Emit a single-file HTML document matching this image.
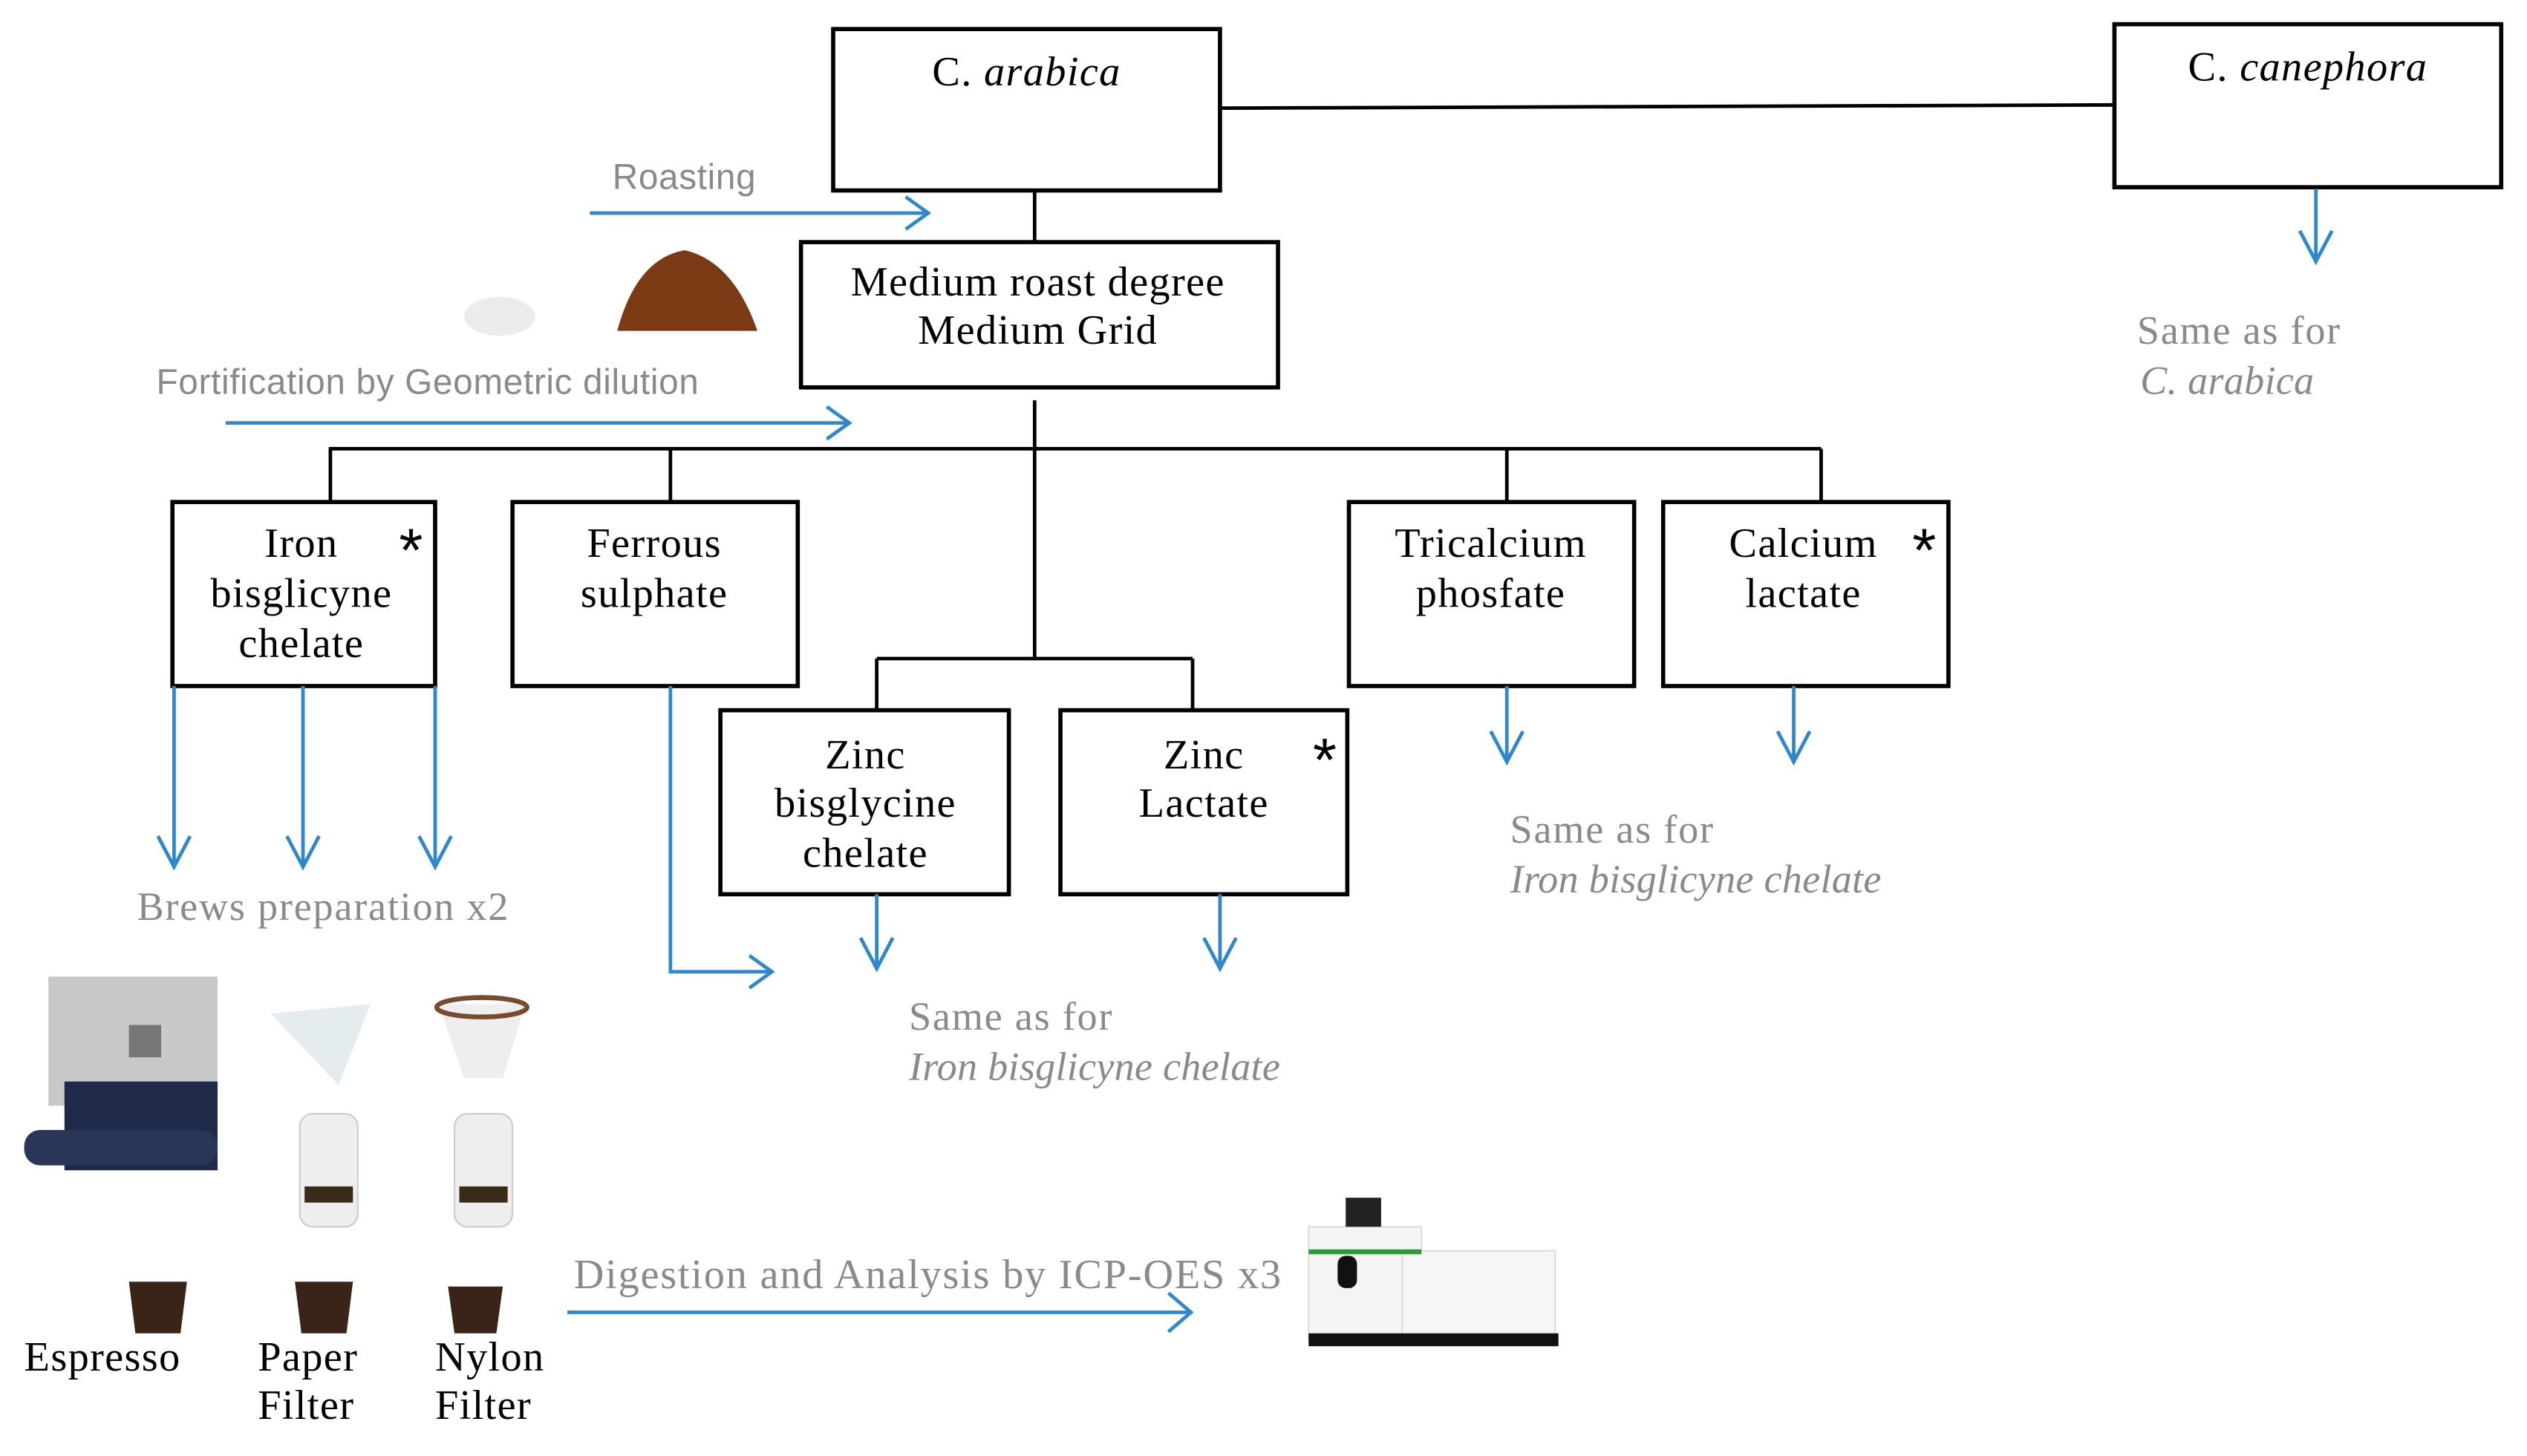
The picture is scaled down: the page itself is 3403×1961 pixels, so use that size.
<!DOCTYPE html>
<html><head><meta charset="utf-8"><style>
html,body{margin:0;padding:0;background:#fff;width:3403px;height:1961px;overflow:hidden}
svg{display:block}
.s{font-family:"Liberation Serif",serif;font-size:26px;letter-spacing:0.6px;fill:#000}
.g{font-family:"Liberation Serif",serif;font-size:25px;letter-spacing:0.8px;fill:#8a8a8a}
.gi{font-family:"Liberation Serif",serif;font-size:25px;letter-spacing:0.1px;fill:#8a8a8a;font-style:italic}
.gs{font-family:"Liberation Sans",sans-serif;font-size:22px;letter-spacing:0.3px;fill:#8a8a8a}
.b{fill:none;stroke:#000;stroke-width:2.6}
.l{fill:none;stroke:#000;stroke-width:2.2}
.a{fill:none;stroke:#2f88cc;stroke-width:2.2}
.st{font-family:"Liberation Sans",sans-serif;font-size:38px;fill:#000}
</style></head><body>
<svg width="3403" height="1961" viewBox="0 0 1568 902" preserveAspectRatio="none" xmlns="http://www.w3.org/2000/svg">
<rect class="b" x="517" y="18" width="240" height="100"/>
<text class="s" x="637" y="53" text-anchor="middle" font-size="24"><tspan>C. </tspan><tspan font-style="italic">arabica</tspan></text>
<line class="l" x1="757" y1="67" x2="1312" y2="65"/>
<rect class="b" x="1312" y="15" width="240" height="101"/>
<text class="s" x="1432" y="50" text-anchor="middle" font-size="24"><tspan>C. </tspan><tspan font-style="italic">canephora</tspan></text>
<path class="a" d="M1437 117 V162 M1427 143 L1437 162 L1447 143"/>
<text class="g" x="1326" y="213">Same as for</text>
<text class="gi" x="1328" y="244">C. arabica</text>

<line class="l" x1="642" y1="118" x2="642" y2="150"/>
<text class="gs" x="380" y="117">Roasting</text>
<path class="a" d="M366 132 H576 M562 122 L576 132 L562 142"/>
<rect class="b" x="497" y="150" width="296" height="90"/>
<text class="s" x="644" y="183" text-anchor="middle">Medium roast degree</text>
<text class="s" x="644" y="213" text-anchor="middle">Medium Grid</text>
<ellipse cx="310" cy="196" rx="22" ry="12" fill="#ececec"/>
<path d="M383 205 Q395 160 425 155 Q455 162 470 205 Z" fill="#7a3a14"/>
<text class="gs" x="97" y="244">Fortification by Geometric dilution</text>
<path class="a" d="M140 262 H527 M513 252 L527 262 L513 272"/>

<line class="l" x1="642" y1="248" x2="642" y2="408"/>
<line class="l" x1="204" y1="278" x2="1130" y2="278"/>
<line class="l" x1="205" y1="278" x2="205" y2="311"/>
<line class="l" x1="416" y1="278" x2="416" y2="311"/>
<line class="l" x1="935" y1="278" x2="935" y2="311"/>
<line class="l" x1="1130" y1="278" x2="1130" y2="311"/>
<line class="l" x1="544" y1="408" x2="740" y2="408"/>
<line class="l" x1="544" y1="408" x2="544" y2="440"/>
<line class="l" x1="740" y1="408" x2="740" y2="440"/>

<rect class="b" x="107" y="311" width="163" height="114"/>
<text class="s" x="187" y="345" text-anchor="middle">Iron</text>
<text class="s" x="187" y="376" text-anchor="middle">bisglicyne</text>
<text class="s" x="187" y="407" text-anchor="middle">chelate</text>
<text class="st" x="255" y="354" text-anchor="middle">*</text>

<rect class="b" x="318" y="311" width="177" height="114"/>
<text class="s" x="406" y="345" text-anchor="middle">Ferrous</text>
<text class="s" x="406" y="376" text-anchor="middle">sulphate</text>

<rect class="b" x="837" y="311" width="177" height="114"/>
<text class="s" x="925" y="345" text-anchor="middle">Tricalcium</text>
<text class="s" x="925" y="376" text-anchor="middle">phosfate</text>

<rect class="b" x="1032" y="311" width="177" height="114"/>
<text class="s" x="1119" y="345" text-anchor="middle">Calcium</text>
<text class="s" x="1119" y="376" text-anchor="middle">lactate</text>
<text class="st" x="1194" y="354" text-anchor="middle">*</text>

<rect class="b" x="447" y="440" width="179" height="114"/>
<text class="s" x="537" y="476" text-anchor="middle">Zinc</text>
<text class="s" x="537" y="506" text-anchor="middle">bisglycine</text>
<text class="s" x="537" y="537" text-anchor="middle">chelate</text>

<rect class="b" x="658" y="440" width="178" height="114"/>
<text class="s" x="747" y="476" text-anchor="middle">Zinc</text>
<text class="s" x="747" y="506" text-anchor="middle">Lactate</text>
<text class="st" x="822" y="484" text-anchor="middle">*</text>

<path class="a" d="M108 425 V537 M98 518 L108 537 L118 518"/>
<path class="a" d="M188 425 V537 M178 518 L188 537 L198 518"/>
<path class="a" d="M270 425 V537 M260 518 L270 537 L280 518"/>
<path class="a" d="M416 425 V602 H479 M465 592 L479 602 L465 612"/>
<path class="a" d="M544 554 V600 M534 581 L544 600 L554 581"/>
<path class="a" d="M757 554 V600 M747 581 L757 600 L767 581"/>
<path class="a" d="M935 425 V472 M925 453 L935 472 L945 453"/>
<path class="a" d="M1113 425 V472 M1103 453 L1113 472 L1123 453"/>

<text class="g" x="937" y="522">Same as for</text>
<text class="gi" x="937" y="553">Iron bisglicyne chelate</text>
<text class="g" x="564" y="638">Same as for</text>
<text class="gi" x="564" y="669">Iron bisglicyne chelate</text>
<text class="g" x="85" y="570">Brews preparation x2</text>

<rect x="30" y="605" width="105" height="80" fill="#c8c8c8"/>
<rect x="40" y="670" width="95" height="55" fill="#1e2a48"/>
<rect x="15" y="700" width="120" height="22" rx="10" fill="#2a3658"/>
<rect x="80" y="635" width="20" height="20" fill="#777"/>
<path d="M168 628 L230 622 L210 672 Z" fill="#e4ecf0"/>
<path d="M272 622 H326 L312 668 H288 Z" fill="#eee"/>
<ellipse cx="299" cy="624" rx="28" ry="6" fill="none" stroke="#7a4a30" stroke-width="3"/>
<rect x="186" y="690" width="36" height="70" rx="8" fill="#eee" stroke="#ccc"/>
<rect x="189" y="735" width="30" height="10" fill="#3a2a1a"/>
<rect x="282" y="690" width="36" height="70" rx="8" fill="#eee" stroke="#ccc"/>
<rect x="285" y="735" width="30" height="10" fill="#3a2a1a"/>
<path d="M80 794 H116 L112 826 H84 Z" fill="#3a2418"/>
<path d="M183 794 H219 L215 826 H187 Z" fill="#3a2418"/>
<path d="M278 797 H312 L308 826 H282 Z" fill="#3a2418"/>
<text class="s" x="15" y="849">Espresso</text>
<text class="s" x="160" y="849">Paper</text>
<text class="s" x="160" y="879">Filter</text>
<text class="s" x="270" y="849">Nylon</text>
<text class="s" x="270" y="879">Filter</text>

<text class="g" x="356" y="798" style="font-size:26px;letter-spacing:0.8px">Digestion and Analysis by ICP-OES x3</text>
<path class="a" d="M352 813 H739 M725 801 L739 813 L725 825"/>
<rect x="812" y="760" width="70" height="70" fill="#f4f4f4" stroke="#ddd"/>
<rect x="870" y="775" width="95" height="55" fill="#f6f6f6" stroke="#ddd"/>
<rect x="812" y="826" width="155" height="8" fill="#111"/>
<rect x="812" y="774" width="70" height="3" fill="#2a9a3a"/>
<rect x="835" y="742" width="22" height="18" fill="#222"/>
<rect x="830" y="778" width="12" height="20" rx="5" fill="#111"/>
</svg>
</body></html>
